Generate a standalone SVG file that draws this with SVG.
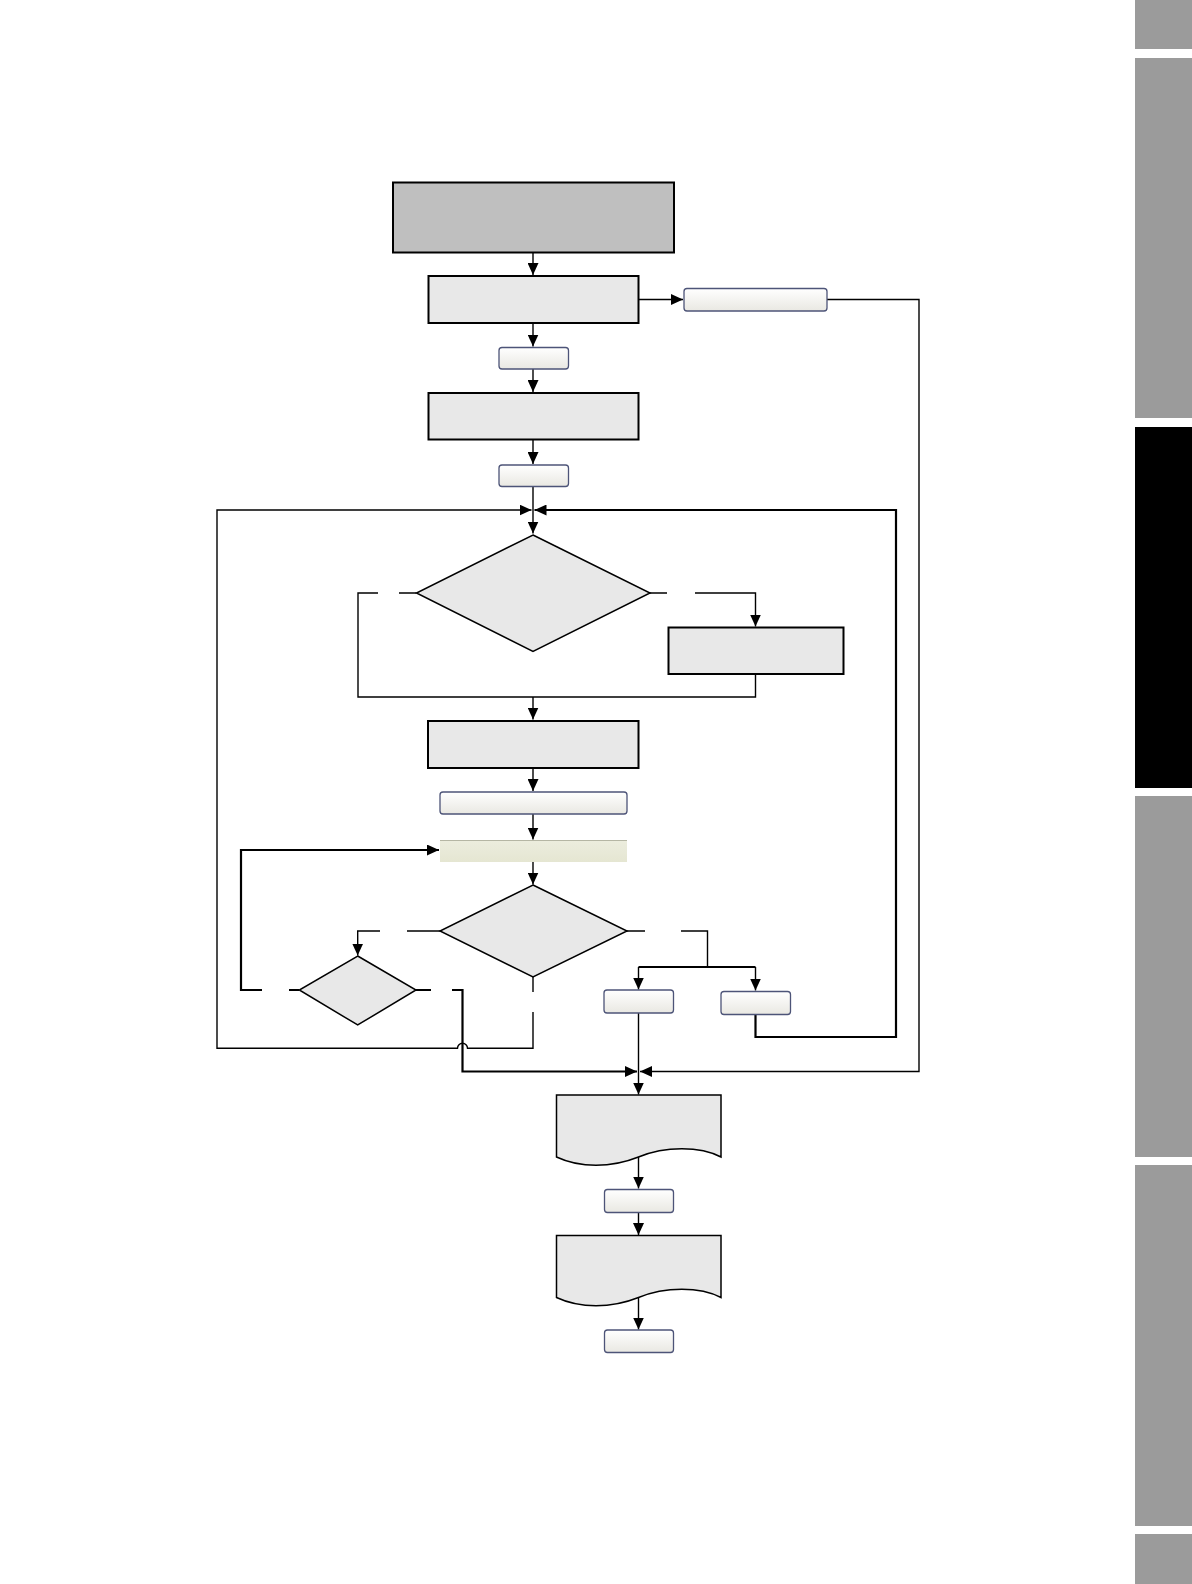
<svg xmlns="http://www.w3.org/2000/svg" width="1192" height="1584" viewBox="0 0 1192 1584">
<style>
.proc{fill:#e8e8e8;stroke:#000;stroke-width:2}
.dec{fill:#e8e8e8;stroke:#000;stroke-width:1.5}
.term{fill:url(#tg);stroke:#4d5478;stroke-width:1.3}
.ln{fill:none;stroke:#000;stroke-width:1.4}
.thk{fill:none;stroke:#000;stroke-width:2.2}
.tab{fill:#9b9b9b}
</style>
<defs>
<linearGradient id="tg" x1="0" y1="0" x2="0" y2="1">
<stop offset="0" stop-color="#ffffff"/>
<stop offset="1" stop-color="#e9e8e2"/>
</linearGradient>
<linearGradient id="yg" x1="0" y1="0" x2="0" y2="1">
<stop offset="0" stop-color="#ecedde"/>
<stop offset="1" stop-color="#e5e6d2"/>
</linearGradient>
<marker id="ah" markerUnits="userSpaceOnUse" markerWidth="13" markerHeight="11" refX="12" refY="5.5" orient="auto">
<path d="M0,0 L12,5.5 L0,11 z" fill="#000"/>
</marker>
</defs>
<rect width="1192" height="1584" fill="#fff"/>

<g id="tabs">
<rect class="tab" x="1135" y="0" width="57" height="49"/>
<rect class="tab" x="1135" y="58" width="57" height="360"/>
<rect x="1135" y="427" width="57" height="361" fill="#000"/>
<rect class="tab" x="1135" y="796" width="57" height="361"/>
<rect class="tab" x="1135" y="1165" width="57" height="361"/>
<rect class="tab" x="1135" y="1534" width="57" height="50"/>
</g>

<g id="connectors">
<path class="ln" d="M533,253 V275" marker-end="url(#ah)"/>
<path class="ln" d="M533,323 V346.5" marker-end="url(#ah)"/>
<path class="ln" d="M638.5,299.5 H683" marker-end="url(#ah)"/>
<path class="ln" d="M533,369 V392" marker-end="url(#ah)"/>
<path class="ln" d="M533,439.5 V464" marker-end="url(#ah)"/>
<path class="ln" d="M533,486 V533.5" marker-end="url(#ah)"/>
<path class="ln" d="M533,977 V992 M533,1012 V1048.3 H467.5 A5,5 0 0 0 457.5,1048.3 H217 V510 H531.5" marker-end="url(#ah)"/>
<path class="thk" d="M755.5,1014 V1037 H896 V510 H534.5" marker-end="url(#ah)"/>
<path class="ln" d="M416.5,593 H399 M378,593 H358 V697 H755.5 V674"/>
<path class="ln" d="M533,697 V719.5" marker-end="url(#ah)"/>
<path class="ln" d="M650,593 H667 M695,593 H755.5 V626.5" marker-end="url(#ah)"/>
<path class="ln" d="M533,768 V791" marker-end="url(#ah)"/>
<path class="ln" d="M533,814 V839.5" marker-end="url(#ah)"/>
<path class="ln" d="M533,862 V884.5" marker-end="url(#ah)"/>
<path class="ln" d="M440,931 H407 M380,931 H357.7 V955.5" marker-end="url(#ah)"/>
<path class="thk" d="M299,990 H289 M262,990 H241 V850 H439" marker-end="url(#ah)"/>
<path class="thk" d="M416,990 H431 M452,990 H462.5 V1071.5 H637" marker-end="url(#ah)"/>
<path class="ln" d="M627,931 H645 M681,931 H707.5 V967"/>
<path class="thk" d="M638.5,967 H755.5"/>
<path class="ln" d="M638.5,967 V989.5" marker-end="url(#ah)"/>
<path class="ln" d="M755.5,967 V990.5" marker-end="url(#ah)"/>
<path class="ln" d="M638.5,1013 V1094.5" marker-end="url(#ah)"/>
<path class="ln" d="M827,299.5 H919 V1071.5 H640" marker-end="url(#ah)"/>
<path class="ln" d="M638.5,1157 V1188.5" marker-end="url(#ah)"/>
<path class="ln" d="M638.5,1212.5 V1235" marker-end="url(#ah)"/>
<path class="ln" d="M638.5,1297 V1329.5" marker-end="url(#ah)"/>
</g>

<g id="start"><rect x="393" y="182.5" width="281" height="70" fill="#bfbfbf" stroke="#000" stroke-width="2"/></g>
<g id="box2"><rect class="proc" x="428.5" y="276" width="210" height="47"/></g>
<g id="termRight"><rect class="term" x="684" y="288.5" width="143" height="22.5" rx="3"/></g>
<g id="term1"><rect class="term" x="499" y="347.5" width="69.5" height="21.5" rx="3"/></g>
<g id="box3"><rect class="proc" x="428.5" y="393" width="210" height="46.5"/></g>
<g id="term2"><rect class="term" x="499" y="465" width="69.5" height="21.5" rx="3"/></g>
<g id="decision1"><polygon class="dec" points="533,535 650,593 533,651.5 416.5,593"/></g>
<g id="boxRight"><rect class="proc" x="668.5" y="627.5" width="175" height="46.5"/></g>
<g id="box4"><rect class="proc" x="428" y="721" width="210.5" height="47"/></g>
<g id="termWide"><rect class="term" x="440" y="792" width="187" height="22" rx="3"/></g>
<g id="yellowBox"><rect x="440" y="840" width="187" height="22" fill="url(#yg)"/><line x1="440" y1="840.5" x2="627" y2="840.5" stroke="#b5b6a4" stroke-width="1"/></g>
<g id="decision2"><polygon class="dec" points="533,885 627,931 533,977 440,931"/></g>
<g id="decision3"><polygon class="dec" points="357.7,956 416,990 357.7,1025 299.3,990"/></g>
<g id="termL"><rect class="term" x="604" y="990" width="69.5" height="23" rx="3"/></g>
<g id="termR"><rect class="term" x="721" y="991.5" width="69.5" height="23" rx="3"/></g>
<g id="doc1"><path class="dec" d="M556.5,1095 H721 V1157 C700,1146 665,1146 638.5,1157 C611,1168 580,1168 556.5,1157 Z"/></g>
<g id="term3"><rect class="term" x="604.5" y="1189.5" width="69" height="23" rx="3"/></g>
<g id="doc2"><path class="dec" d="M556.5,1235.5 H721 V1297.5 C700,1286.5 665,1286.5 638.5,1297.5 C611,1308.5 580,1308.5 556.5,1297.5 Z"/></g>
<g id="term4"><rect class="term" x="604.5" y="1330" width="69" height="22.5" rx="3"/></g>
</svg>
